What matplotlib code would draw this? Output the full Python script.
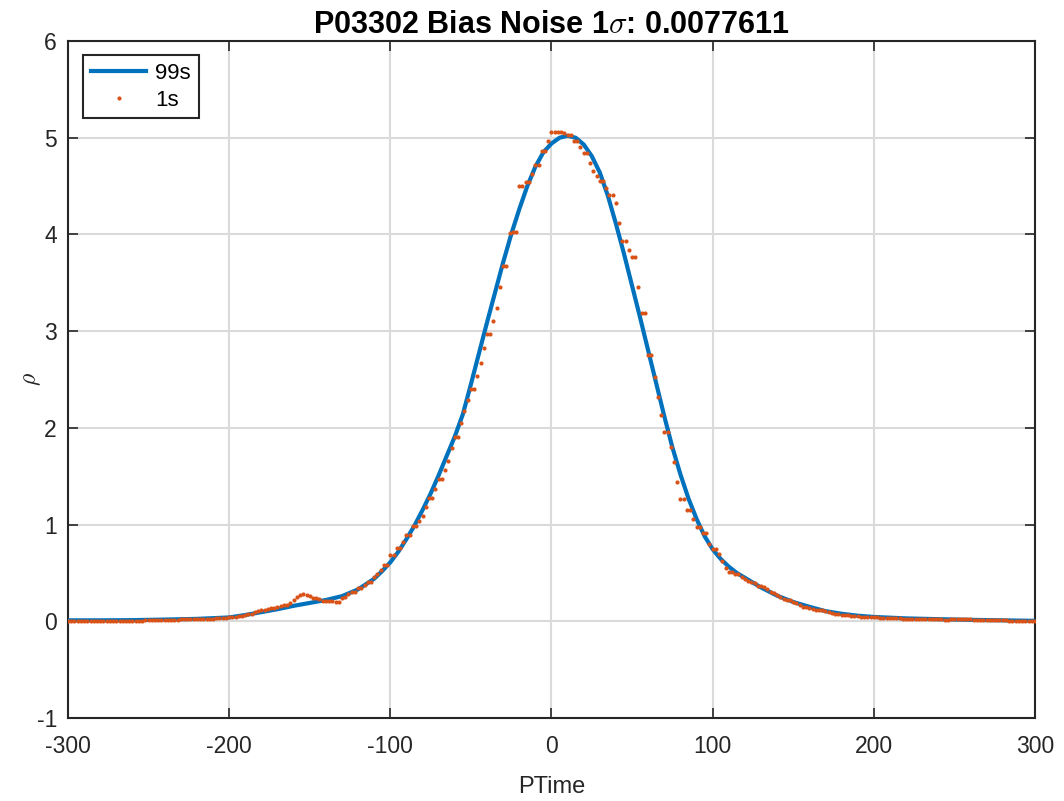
import numpy as np
import matplotlib
matplotlib.use('Agg')
import matplotlib.pyplot as plt

plt.rcParams['font.family'] = ['Liberation Sans', 'DejaVu Sans']
plt.rcParams['mathtext.fontset'] = 'cm'
plt.rcParams['axes.unicode_minus'] = False

# 99s 곡선 (PTime, rho)
fit_t = [-300, -280, -260, -240, -220, -200, -190, -180, -170, -160,
         -150, -140, -130, -120, -110, -105, -100, -95, -90, -85, -80,
         -75, -70, -65, -60, -55, -50, -45, -40, -35, -30,
         -25, -20, -15, -10, -5, 0, 5, 10, 15, 20,
         25, 30, 35, 40, 45, 50, 55, 60, 65, 70,
         75, 80, 85, 90, 95, 100, 105, 110, 115, 120, 130, 140,
         150, 160, 170, 180, 190, 200, 220, 240, 260, 280, 300]
fit_rho = [0.01, 0.01, 0.012, 0.018, 0.025, 0.04, 0.065, 0.095, 0.125, 0.16,
           0.19, 0.22, 0.26, 0.33, 0.44, 0.52, 0.61, 0.72, 0.85, 0.99, 1.15,
           1.32, 1.51, 1.71, 1.91, 2.14, 2.45, 2.77, 3.09, 3.40, 3.71,
           4.00, 4.26, 4.50, 4.70, 4.85, 4.94, 5.00, 5.02, 5.00, 4.93,
           4.81, 4.64, 4.40, 4.11, 3.80, 3.47, 3.14, 2.80, 2.46, 2.12,
           1.80, 1.52, 1.27, 1.06, 0.88, 0.745, 0.645, 0.565, 0.50, 0.45, 0.35, 0.265,
           0.20, 0.15, 0.105, 0.078, 0.058, 0.045, 0.03, 0.022, 0.015, 0.01, 0.005]

# 1s 점 데이터 (PTime -300 ~ 300, 간격 2)
raw_t = np.arange(-300, 301, 2)
raw_rho = [
    0.006, 0.005, 0.004, 0.005, 0.006, 0.004, 0.003, 0.005, 0.006, 0.005,
    0.004, 0.005, 0.006, 0.007, 0.006, 0.005, 0.004, 0.006, 0.007, 0.008,
    0.008, 0.007, 0.006, 0.008, 0.010, 0.011, 0.010, 0.009, 0.011, 0.013,
    0.014, 0.013, 0.015, 0.017, 0.018, 0.020, 0.022, 0.024, 0.023, 0.022,
    0.021, 0.022, 0.024, 0.026, 0.025, 0.027, 0.030, 0.033, 0.035, 0.038,
    0.040, 0.042, 0.045, 0.050, 0.058, 0.066, 0.072, 0.080, 0.092, 0.105,
    0.115, 0.122, 0.128, 0.135, 0.142, 0.150, 0.158, 0.165, 0.172, 0.190,
    0.22, 0.25, 0.27, 0.28, 0.275, 0.26, 0.245, 0.24, 0.23, 0.215,
    0.21, 0.21, 0.205, 0.20, 0.20, 0.24, 0.25, 0.28, 0.30, 0.30,
    0.34, 0.34, 0.38, 0.41, 0.41, 0.46, 0.49, 0.53, 0.58, 0.58,
    0.69, 0.69, 0.76, 0.76, 0.82, 0.89, 0.89, 0.99, 0.99, 1.04,
    1.09, 1.18, 1.27, 1.27, 1.37, 1.47, 1.47, 1.56, 1.66, 1.79,
    1.91, 1.91, 2.05, 2.17, 2.29, 2.40, 2.40, 2.54, 2.67, 2.83,
    2.97, 2.97, 3.11, 3.24, 3.46, 3.67, 3.67, 4.02, 4.03, 4.03,
    4.50, 4.50, 4.54, 4.54, 4.63, 4.72, 4.72, 4.86, 4.86, 4.97,
    5.06, 5.06, 5.06, 5.06, 5.05, 5.03, 5.03, 4.97, 4.97, 4.90,
    4.84, 4.84, 4.74, 4.66, 4.60, 4.55, 4.55, 4.48, 4.41, 4.41,
    4.32, 4.12, 3.93, 3.93, 3.84, 3.77, 3.77, 3.46, 3.19, 3.19,
    2.75, 2.75, 2.53, 2.32, 2.13, 1.96, 1.96, 1.80, 1.65, 1.44,
    1.26, 1.26, 1.15, 1.15, 1.06, 0.975, 0.975, 0.91, 0.91, 0.80,
    0.75, 0.75, 0.70, 0.62, 0.55, 0.51, 0.51, 0.49, 0.49, 0.46,
    0.44, 0.42, 0.41, 0.40, 0.37, 0.36, 0.35, 0.33, 0.30, 0.29,
    0.27, 0.25, 0.23, 0.22, 0.22, 0.20, 0.19, 0.17, 0.15, 0.15,
    0.14, 0.13, 0.12, 0.12, 0.12, 0.11, 0.10, 0.09, 0.08, 0.075,
    0.07, 0.065, 0.06, 0.055, 0.05, 0.05, 0.048, 0.046, 0.045, 0.043,
    0.040, 0.040, 0.038, 0.037, 0.036, 0.035, 0.034, 0.032, 0.030, 0.028,
    0.026, 0.025, 0.024, 0.024, 0.023, 0.022, 0.022, 0.021, 0.020, 0.020,
    0.020, 0.019, 0.018, 0.018, 0.019, 0.020, 0.022, 0.025, 0.028, 0.027,
    0.024, 0.018, 0.015, 0.013, 0.012, 0.012, 0.011, 0.010, 0.010, 0.010,
    0.009, 0.009, 0.008, 0.008, 0.008, 0.007, 0.007, 0.006, 0.006, 0.005,
    0.005]

fig = plt.figure(figsize=(10.64, 8.01), dpi=100)
ax = fig.add_axes([0.0639, 0.1036, 0.9088, 0.8452])

ax.plot(fit_t, fit_rho, color='#0072BD', lw=3, label='99s', zorder=3)
ax.plot(raw_t, raw_rho, 'o', color='#D95319', ms=3, mew=0, label='1s', zorder=4)

ax.set_xlim(-300, 300)
ax.set_ylim(-1, 6)
ax.set_xticks(np.arange(-300, 301, 100))
ax.set_yticks(np.arange(-1, 7, 1))
ax.grid(True, color='#dadada', lw=1.5)
ax.set_axisbelow(True)

ax.tick_params(direction='in', length=7, width=1.2, top=True, right=True,
               labelsize=16.5, colors='#262626')
ax.tick_params(axis='x', pad=12)
ax.tick_params(axis='y', pad=8)
for s in ax.spines.values():
    s.set_linewidth(1.5)
    s.set_color('#262626')

ax.set_xlabel('PTime', fontsize=17, color='#262626', labelpad=13)
ax.set_ylabel(r'$\rho$', fontsize=17, color='#262626', labelpad=-5)
ax.set_title(r'P03302 Bias Noise 1$\sigma$: 0.0077611', fontsize=22,
             fontweight='bold', color='black', pad=6)

leg = ax.legend(loc='upper left', bbox_to_anchor=(0.0155, 0.979),
                fontsize=16, fancybox=False, framealpha=1,
                edgecolor='#262626', handlelength=2.5, borderpad=0.35,
                labelspacing=0.25, handletextpad=0.4, borderaxespad=0)
leg.get_frame().set_linewidth(1.5)

fig.savefig('out.png', dpi=100)
